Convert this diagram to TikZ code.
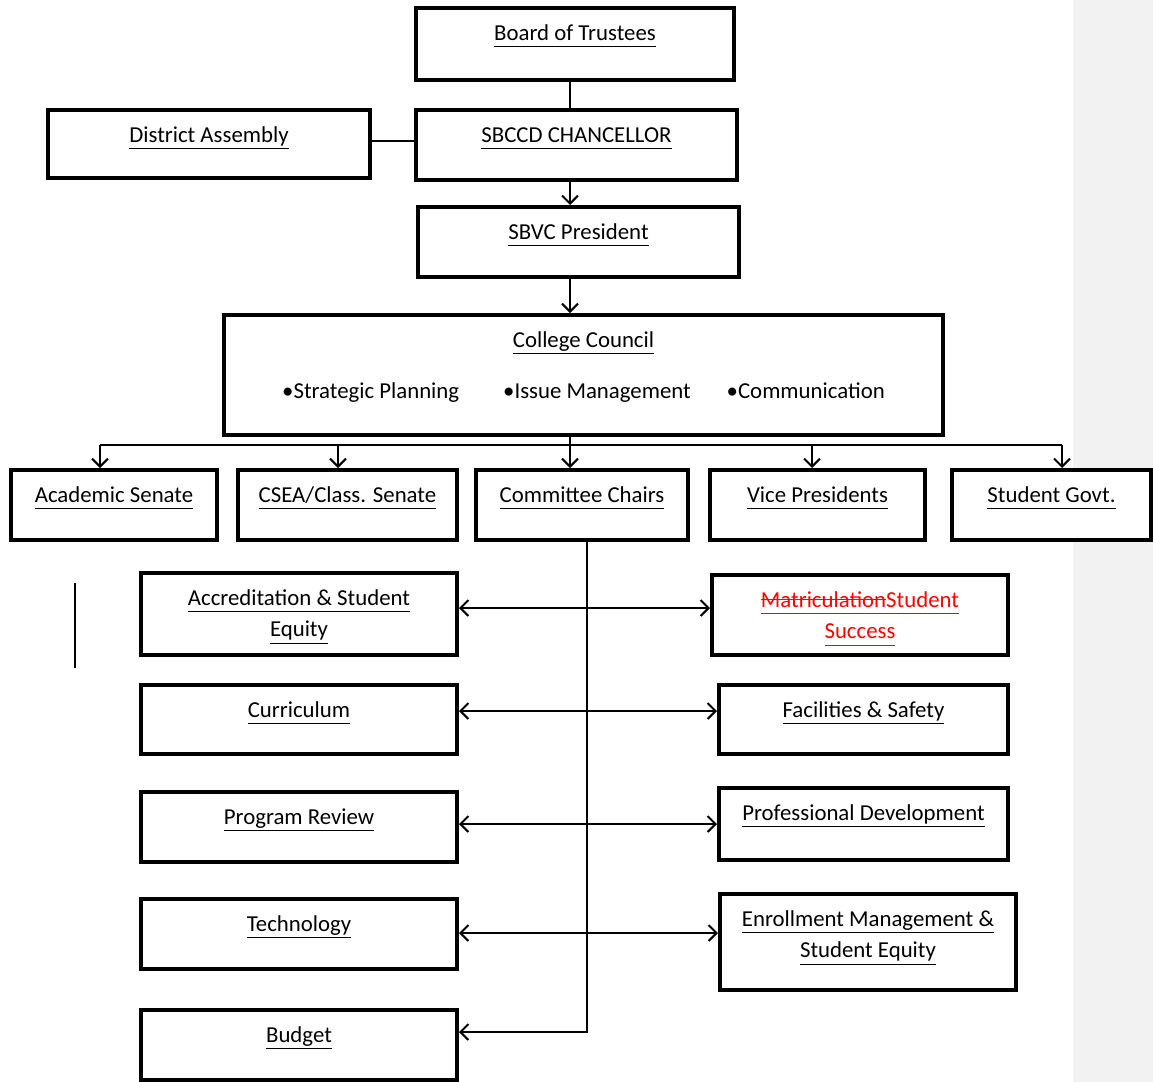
\documentclass[tikz,border=0pt]{standalone}
\usepackage{fontspec}
\setmainfont{Carlito}
\usepackage{tikz}
\usetikzlibrary{arrows.meta}
\renewcommand{\arraystretch}{1.15}
\newcommand{\ulin}[1]{\underline{#1\vphantom{y}}}
\newcommand{\strk}[1]{\begingroup\setbox0\hbox{#1}\rlap{\rule[0.3em]{\wd0}{0.6pt}}\box0\endgroup}

\begin{document}
\begin{tikzpicture}[
    x=0.5pt, y=-0.5pt,
    >={Straight Barb[length=4pt,width=8pt]},
    font=\fontsize{11.4}{13.8}\selectfont,
    orgbox/.style={
		draw=black,
		line width=2pt,
		fill=white,
		inner sep=0pt,
		text centered,
		text height=16pt,
		text depth=19pt
	},
	link/.style={
		line width=1pt
	}
  ]
  \useasboundingbox (0,0) rectangle (1153,1082);
  \fill[black!5] (1073,0) rectangle (1153,1082);

    % We start by placing the blocks
  \node [orgbox, minimum width=159pt, text depth=20pt] (trustees) at (575,44)
 {\ulin{Board of Trustees}};

  \node [orgbox, minimum width=160.5pt] (chancellor) at (576.5,145)
 {\ulin{SBCCD CHANCELLOR}};

  \node [orgbox, minimum width=161pt, text depth=18pt] (district) at (209,144)
 {\ulin{District Assembly}};

  \node [orgbox, minimum width=160.5pt] (president) at (578.5,242)
 {\ulin{SBVC President}};

  \node [orgbox, minimum width=359.5pt, text depth=44pt] (council) at (583.5,375)
 {%
 \begin{tabular}[t]{@{}c@{}}
  \ulin{College Council}\\[10pt]
  •Strategic Planning\hspace{22pt}•Issue Management\hspace{18pt}•Communication
 \end{tabular}
 };

  \node [orgbox, minimum width=103pt] (acad) at (114,505) {\ulin{Academic Senate}};
  \node [orgbox, minimum width=109.5pt] (csea) at (347.5,505) {\ulin{CSEA/Class. Senate}};
  \node [orgbox, minimum width=106pt] (chairs) at (582,505) {\ulin{Committee Chairs}};
  \node [orgbox, minimum width=107.5pt] (vp) at (817.5,505) {\ulin{Vice Presidents}};
  \node [orgbox, minimum width=99.5pt] (sgov) at (1051.5,505) {\ulin{Student Govt.}};

  \node [orgbox, minimum width=158pt, text depth=25pt] (acc) at (299,614)
 {%
 \begin{tabular}[t]{@{}c@{}}
  \ulin{Accreditation \& Student}\\
  \ulin{Equity}
 \end{tabular}
 };
  \node [orgbox, minimum width=158pt, text depth=18.5pt] (curr) at (299,719.5) {\ulin{Curriculum}};
  \node [orgbox, minimum width=158pt] (prog) at (299,827) {\ulin{Program Review}};
  \node [orgbox, minimum width=158pt] (tech) at (299,934) {\ulin{Technology}};
  \node [orgbox, minimum width=158pt] (budget) at (299,1045) {\ulin{Budget}};

  \node [orgbox, minimum width=148pt, text depth=24pt] (mat) at (860,615)
 {%
 \color{red}%
 \begin{tabular}[t]{@{}c@{}}
  \ulin{\strk{Matriculation}Student}\\
  \ulin{Success}
 \end{tabular}
 };
  \node [orgbox, minimum width=144.5pt, text depth=18.5pt] (fac) at (863.5,719.5) {\ulin{Facilities \& Safety}};
  \node [orgbox, minimum width=144.5pt, text depth=20pt] (prof) at (863.5,824) {\ulin{Professional Development}};
  \node [orgbox, minimum width=148pt, text depth=32pt] (enrol) at (868,942)
 {%
 \begin{tabular}[t]{@{}c@{}}
  \ulin{Enrollment Management \&}\\
  \ulin{Student Equity}
 \end{tabular}
 };

  \coordinate (spine) at (570,0);
  \coordinate (busL) at (100,445);
  \coordinate (busR) at (1062,445);

 \draw [link] (trustees.south -| spine) -- (chancellor.north -| spine);
 \draw [link] ([yshift=1.5pt]district.east) -- ([yshift=1.5pt]district.east -| chancellor.west);
 \draw [link,->] (chancellor.south -| spine) -- (president.north -| spine);
 \draw [link,->] (president.south -| spine) -- (council.north -| spine);
 \draw [link] (council.south -| spine) -- (spine |- busL);
 \draw [link] (busL) -- (busR);
 \foreach \n/\d in {acad/-7, csea/-4.75, chairs/-6, vp/-2.75, sgov/5.25}
   \draw [link,->] ([xshift=\d pt]\n.north |- busL) -- ([xshift=\d pt]\n.north);

 \draw [link,->] ([xshift=2.5pt]chairs.south) |- ([yshift=6.5pt]budget.east);
 \draw [link,<->] ([yshift=3pt]acc.east) -- ([yshift=3pt]acc.east -| mat.west);
 \draw [link,<->] ([yshift=4.25pt]curr.east) -- ([yshift=4.25pt]curr.east -| fac.west);
 \draw [link,<->] ([yshift=1.5pt]prog.east) -- ([yshift=1.5pt]prog.east -| prof.west);
 \draw [link,<->] ([yshift=0.5pt]tech.east) -- ([yshift=0.5pt]tech.east -| enrol.west);

 \draw [link] (75,583) -- (75,668);

\end{tikzpicture}
\end{document}
